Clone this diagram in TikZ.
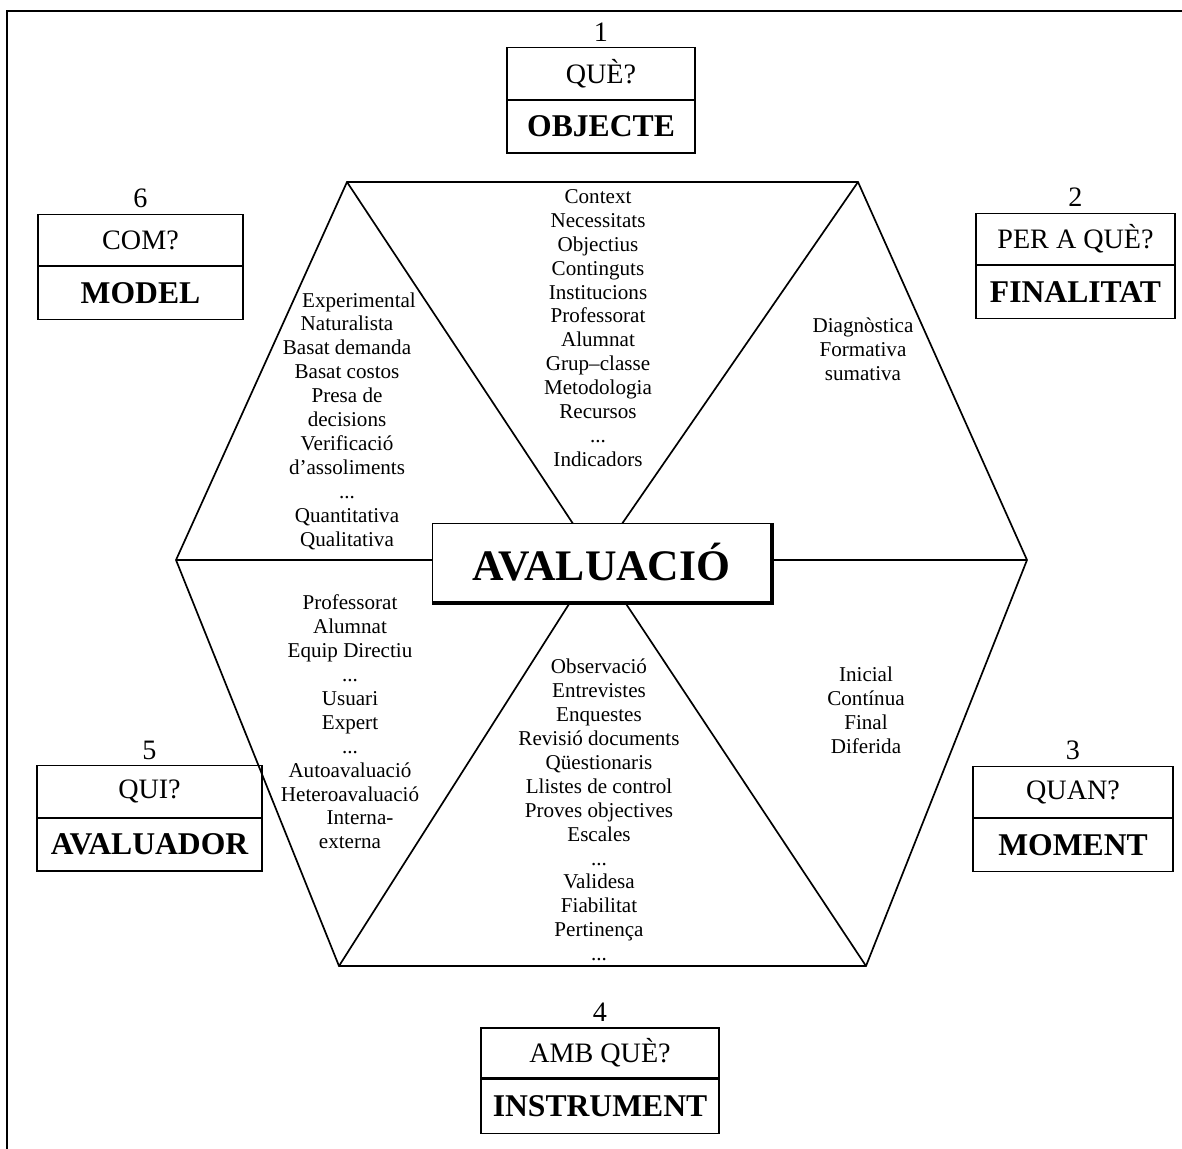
\documentclass[tikz,border=0pt]{standalone}
\usepackage{fontspec}
\setmainfont{Liberation Serif}
\usepackage{tikz}
\usetikzlibrary{positioning, calc}
\tikzset{
  qtop/.style={rectangle, draw, line width=0.8pt, minimum height=1.28cm,
    inner sep=0pt, font=\fontsize{20}{22}\selectfont},
  qbot/.style={rectangle, draw, line width=0.8pt, minimum height=1.32cm,
    inner sep=0pt, font=\fontsize{22.5}{25}\selectfont\bfseries},
  qnum/.style={inner sep=0pt, font=\fontsize{20}{22}\selectfont},
  avabox/.style={rectangle, draw, fill=white, line width=1pt,
    minimum width=8.45cm, minimum height=1.95cm,
    font=\fontsize{31}{33}\selectfont\bfseries},
  listtext/.style={align=center, inner sep=0pt, font=\fontsize{15}{17}\selectfont},
  hexline/.style={line width=1.2pt},
  frameline/.style={line width=1pt}
}

\begin{document}
\begin{tikzpicture}[x=0.025cm, y=-0.025cm]
  \useasboundingbox (0,0) rectangle (1182,1149);

  % Frame (top and left only)
  \draw[frameline] (7,1149) -- (7,11) -- (1182,11);

  % Hexagon
  \coordinate (tl) at (347,182);
  \coordinate (tr) at (858,182);
  \coordinate (r)  at (1027,560);
  \coordinate (br) at (866,966);
  \coordinate (bl) at (339,966);
  \coordinate (l)  at (176,560);
  \coordinate (c)  at (597,560);
  \draw[hexline] (tl) -- (tr) -- (r) -- (br) -- (bl) -- (l) -- cycle;
  \foreach \v in {tl,tr,r,br,bl,l}
    \draw[hexline] (\v) -- (c);

  % Centre box with shadow
  \node[avabox] (ava) at (601.5,562.5) {AVALUACIÓ};
  \draw[line width=2pt] ([xshift=1pt]ava.north east) -- ([xshift=1pt,yshift=-1pt]ava.south east)
    -- ([yshift=-1pt]ava.south west);

  % 1 - Objecte
  \node[qtop, minimum width=4.7cm] (q1) at (601,73.5) {QUÈ?};
  \node[qbot, minimum width=4.7cm, below=0pt of q1] (b1) {OBJECTE};
  \node[qnum, above=4pt of q1] (n1) {1};

  % 2 - Finalitat
  \node[qtop, minimum width=4.975cm] (q2) at (1075.5,239) {PER A QUÈ?};
  \node[qbot, minimum width=4.975cm, below=0pt of q2] (b2) {FINALITAT};
  \node[qnum, above=4pt of q2] (n2) {2};

  % 3 - Moment
  \node[qtop, minimum width=5cm] (q3) at (1073,792) {QUAN?};
  \node[qbot, minimum width=5cm, below=0pt of q3] (b3) {MOMENT};
  \node[qnum, above=4pt of q3] (n3) {3};

  % 4 - Instrument
  \node[qtop, minimum width=5.95cm, minimum height=1.25cm] (q4) at (600,1053) {AMB QUÈ?};
  \node[qbot, minimum width=5.95cm, minimum height=1.35cm, below=0pt of q4] (b4) {INSTRUMENT};
  \node[qnum, above=4pt of q4] (n4) {4};

  % 5 - Avaluador
  \node[qtop, minimum width=5.625cm] (q5) at (149.5,791.5) {QUI?};
  \node[qbot, minimum width=5.625cm, below=0pt of q5] (b5) {AVALUADOR};
  \node[qnum, above=4pt of q5] (n5) {5};

  % 6 - Model
  \node[qtop, minimum width=5.125cm] (q6) at (140.5,240) {COM?};
  \node[qbot, minimum width=5.125cm, below=0pt of q6] (b6) {MODEL};
  \node[qnum, above=4pt of q6] (n6) {6};

  % Sector contents
  \node[listtext] (objlist) at (598,328) {Context\\Necessitats\\Objectius\\Continguts\\Institucions\\Professorat\\Alumnat\\Grup–classe\\Metodologia\\Recursos\\...\\Indicadors};
  \node[listtext] (finlist) at (863,349) {Diagnòstica\\Formativa\\sumativa};
  \node[listtext] (momlist) at (866,710) {Inicial\\Contínua\\Final\\Diferida};
  \node[listtext] (instrlist) at (599,810) {Observació\\Entrevistes\\Enquestes\\Revisió documents\\Qüestionaris\\Llistes de control\\Proves objectives\\Escales\\...\\Validesa\\Fiabilitat\\Pertinença\\...};
  \node[listtext] (avallist) at (350,722) {Professorat\\Alumnat\\Equip Directiu\\...\\Usuari\\Expert\\...\\Autoavaluació\\Heteroavaluació\\\hspace*{0.5cm}Interna-\\externa};
  \node[listtext] (modlist) at (347,421) {\hspace*{0.6cm}Experimental\\Naturalista\\Basat demanda\\Basat costos\\Presa de\\decisions\\Verificació\\d’assoliments\\...\\Quantitativa\\Qualitativa};
\end{tikzpicture}
\end{document}
